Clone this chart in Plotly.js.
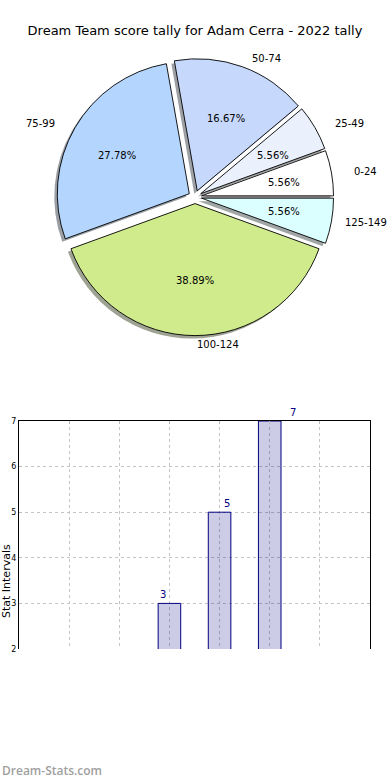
<!DOCTYPE html>
<html><head><meta charset="utf-8">
<script src="https://cdn.plot.ly/plotly-3.0.1.min.js"></script>
<style>html,body{margin:0;padding:0;background:#fff}#chart{width:390px;height:780px}</style>
</head><body><div id="chart"></div>
<script>
// ---- data ----
const chartTitle = 'Dream Team score tally for Adam Cerra - 2022 tally';
const intervals = ['0-24', '25-49', '50-74', '75-99', '100-124', '125-149'];
const counts = [1, 1, 3, 5, 7, 1];
const yTicks = [2, 3, 4, 5, 6, 7];
const yAxisTitle = 'Stat Intervals';
const watermark = 'Dream-Stats.com';

// ---- styles ----
const sliceColors = ['#ffffff', '#eaf1fd', '#c6d9fd', '#b4d6fe', '#d0eb8c', '#dbffff'];
const barLabelShift = [0, 0, -6, 7, 23, 0];
const W = 390, H = 780;
const FONT = 'DejaVu Sans';
const pie = {cx: 195, cy: 197, r: 132, pull: 0.05, textRx: 139, textRy: 128};
const approxCharW = 6.2; // px per char of 10px labels, to keep labels inside the page

const total = counts.reduce((a, b) => a + b, 0);
// matplotlib starts at 3 o'clock going counter-clockwise; plotly's ccw rotation marks the end of the first slice
const pieRotation = 90 - 360 * counts[0] / total;

function shadowColor(hex) {
  const v = parseInt(hex.slice(1), 16);
  const r = (v >> 16) & 255, g = (v >> 8) & 255, b = v & 255;
  return 'rgba(' + Math.round(r * 0.3) + ',' + Math.round(g * 0.3) + ',' + Math.round(b * 0.3) + ',0.5)';
}
function domainFor(cx, cy) {
  const h = pie.r * (1 + pie.pull);
  return {x: [(cx - h) / W, (cx + h) / W], y: [1 - (cy + h) / H, 1 - (cy - h) / H]};
}

const shadowTrace = {
  type: 'pie', values: counts, labels: intervals, sort: false,
  direction: 'counterclockwise', rotation: pieRotation,
  pull: counts.map(() => pie.pull),
  marker: {colors: sliceColors.map(shadowColor), line: {width: 0}},
  textinfo: 'none', hoverinfo: 'skip', showlegend: false,
  domain: domainFor(pie.cx - 3, pie.cy + 3)
};
const pieTrace = {
  type: 'pie', values: counts, labels: intervals, sort: false,
  direction: 'counterclockwise', rotation: pieRotation,
  pull: counts.map(() => pie.pull),
  marker: {colors: sliceColors, line: {width: 0.9, color: '#000'}},
  textinfo: 'none', hoverinfo: 'skip', showlegend: false,
  domain: domainFor(pie.cx, pie.cy)
};

const annotations = [];
let cum = 0;
counts.forEach((c, i) => {
  const mid = (cum + c / 2) / total * 2 * Math.PI;
  cum += c;
  const cos = Math.cos(mid), sin = Math.sin(mid);
  const ox = pie.cx + pie.pull * pie.textRx * cos;
  const oy = pie.cy - pie.pull * pie.textRy * sin;
  annotations.push({
    xref: 'paper', yref: 'paper', showarrow: false,
    x: (ox + 0.6 * pie.textRx * cos) / W, y: 1 - (oy - 0.6 * pie.textRy * sin) / H,
    xanchor: 'center', yanchor: 'middle',
    text: (c / total * 100).toFixed(2) + '%', font: {family: FONT, size: 10, color: '#000'}
  });
  let lx = ox + 1.1 * pie.textRx * cos;
  let anchor = cos > -1e-6 ? 'left' : 'right';
  if (anchor === 'left' && lx + intervals[i].length * approxCharW > W - 1) {
    lx = W - 1; anchor = 'right';
  }
  annotations.push({
    xref: 'paper', yref: 'paper', showarrow: false,
    x: lx / W, y: 1 - (oy - 1.1 * pie.textRy * sin) / H,
    xanchor: anchor, yanchor: 'middle',
    text: intervals[i], font: {family: FONT, size: 10, color: '#000'}
  });
});

counts.forEach((c, i) => {
  annotations.push({
    xref: 'x', yref: 'y', x: intervals[i], y: c, showarrow: false,
    xanchor: 'center', yanchor: 'bottom', yshift: 1, xshift: barLabelShift[i],
    text: String(c), font: {family: FONT, size: 10, color: '#000080'}
  });
});

annotations.push({
  xref: 'paper', yref: 'paper', x: 6 / W, y: 1 - 581 / H, showarrow: false,
  textangle: -90, xanchor: 'center', yanchor: 'middle',
  text: yAxisTitle, font: {family: FONT, size: 11, color: '#000'}
});
annotations.push({
  xref: 'paper', yref: 'paper', x: 0, y: 1 - 770 / H, showarrow: false,
  xanchor: 'left', yanchor: 'middle',
  text: watermark, font: {family: 'Open Sans', size: 12, color: '#a0a0a0', weight: 600}
});

const barTrace = {
  type: 'bar', x: intervals, y: counts, width: 0.45,
  marker: {color: 'rgba(0,0,128,0.2)', line: {color: '#000080', width: 1}},
  hoverinfo: 'skip', showlegend: false, cliponaxis: true
};

const layout = {
  width: W, height: H,
  margin: {l: 0, r: 0, t: 0, b: 0},
  paper_bgcolor: '#fff', plot_bgcolor: '#fff',
  font: {family: FONT, color: '#000'},
  title: {text: chartTitle, font: {family: FONT, size: 13, color: '#000'},
          x: 0.5, xref: 'paper', xanchor: 'center', y: 1 - 30 / H, yref: 'paper', yanchor: 'middle'},
  xaxis: {
    domain: [19 / W, 370 / W], type: 'category', range: [-1, 6], side: 'top',
    showticklabels: false, ticks: 'inside', ticklen: 3, tickcolor: '#bbbbbb',
    showline: true, linecolor: '#000', linewidth: 1, mirror: false,
    showgrid: true, gridcolor: '#c4c4c4', griddash: 'dot', gridwidth: 1, zeroline: false, fixedrange: true
  },
  yaxis: {
    domain: [1 - 649 / H, 1 - 421 / H], range: [2, 7], tickvals: yTicks,
    ticks: 'inside', ticklen: 3, tickcolor: '#bbbbbb', tickfont: {family: FONT, size: 8, color: '#000'},
    showline: true, linecolor: '#000', linewidth: 1, mirror: 'ticks',
    showgrid: true, gridcolor: '#c4c4c4', griddash: 'dot', gridwidth: 1, zeroline: false, fixedrange: true
  },
  annotations: annotations
};

Plotly.newPlot('chart', [shadowTrace, pieTrace, barTrace], layout, {staticPlot: true, displayModeBar: false});
</script>
</body></html>
